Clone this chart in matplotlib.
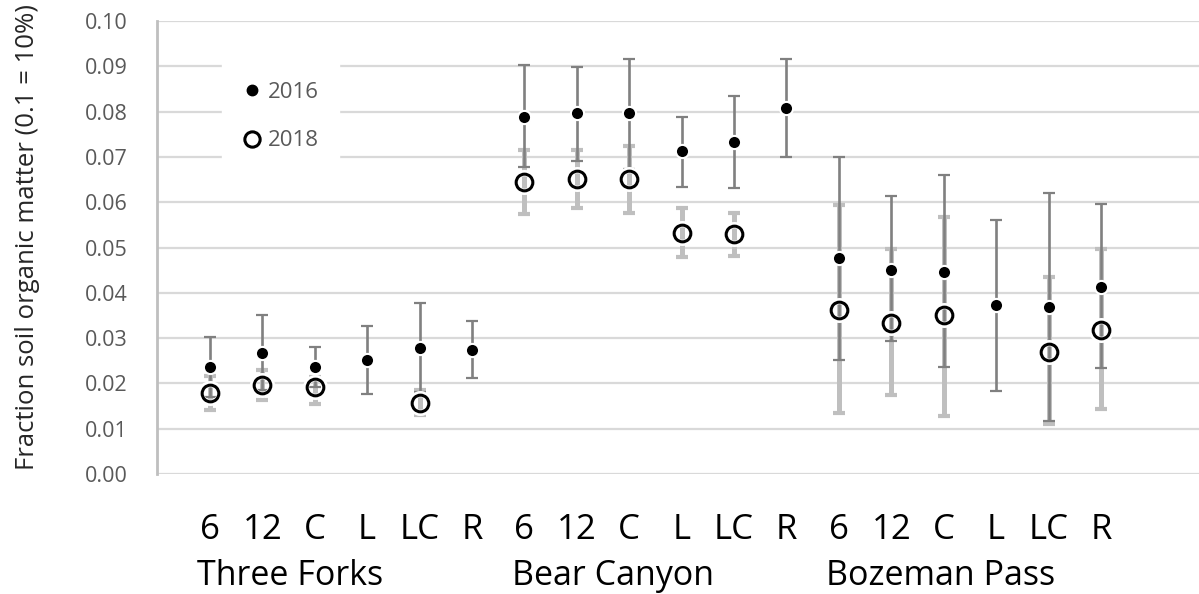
import numpy as np
import matplotlib.pyplot as plt
from matplotlib.lines import Line2D

# -------------------------------------------------------
# Data
# -------------------------------------------------------

sites = ["Three Forks", "Bear Canyon", "Bozeman Pass"]
treatments = ["6", "12", "C", "L", "LC", "R"]

som_2016 = [0.0236, 0.0268, 0.0236, 0.0252, 0.0278, 0.0274,
            0.0789, 0.0797, 0.0797, 0.0714, 0.0732, 0.0808,
            0.0477, 0.0451, 0.0447, 0.0372, 0.0369, 0.0413]
hi_2016 = [0.0303, 0.0351, 0.0280, 0.0327, 0.0377, 0.0338,
           0.0903, 0.0898, 0.0916, 0.0789, 0.0835, 0.0916,
           0.0700, 0.0613, 0.0660, 0.0561, 0.0621, 0.0597]
lo_2016 = [0.0170, 0.0185, 0.0192, 0.0176, 0.0182, 0.0212,
           0.0678, 0.0692, 0.0674, 0.0634, 0.0632, 0.0700,
           0.0252, 0.0293, 0.0236, 0.0183, 0.0117, 0.0233]

nan = np.nan
som_2018 = [0.0179, 0.0196, 0.0191, nan, 0.0157, nan,
            0.0645, 0.0652, 0.0651, 0.0532, 0.0530, nan,
            0.0362, 0.0334, 0.0351, nan, 0.0270, 0.0318]
hi_2018 = [0.0216, 0.0230, 0.0214, nan, 0.0185, nan,
           0.0715, 0.0716, 0.0724, 0.0588, 0.0577, nan,
           0.0594, 0.0496, 0.0568, nan, 0.0435, 0.0496]
lo_2018 = [0.0141, 0.0164, 0.0154, nan, 0.0130, nan,
           0.0575, 0.0588, 0.0577, 0.0480, 0.0482, nan,
           0.0135, 0.0175, 0.0129, nan, 0.0110, 0.0143]

# -------------------------------------------------------
# Plot
# -------------------------------------------------------

plt.rcParams["font.family"] = ["Open Sans", "DejaVu Sans"]

labels = treatments * len(sites)
x = np.arange(len(labels))

y16 = np.array(som_2016)
y18 = np.array(som_2018)
err16 = [y16 - np.array(lo_2016), np.array(hi_2016) - y16]
err18 = [y18 - np.array(lo_2018), np.array(hi_2018) - y18]

fig = plt.figure(figsize=(11.99, 5.94), dpi=100)
ax = fig.add_axes([157 / 1199, 120 / 594, 1042 / 1199, 453 / 594])

# 2018 error bars (light, behind)
ax.errorbar(x, y18, yerr=err18, fmt="none", ecolor="#bfbfbf",
            elinewidth=3.6, capsize=4.3, capthick=3.0, zorder=2)
# 2016 error bars (dark)
ax.errorbar(x, y16, yerr=err16, fmt="none", ecolor="#808080",
            elinewidth=1.9, capsize=4.3, capthick=1.6, zorder=3)

ax.plot(x, y16, "o", color="black", markersize=9.5,
        markeredgecolor="white", markeredgewidth=1.5, zorder=5)
ax.plot(x, y18, "o", color="white", markersize=13.5,
        markerfacecolor="none", markeredgewidth=4.5, zorder=5)
ax.plot(x, y18, "o", markersize=12, markerfacecolor="none",
        markeredgecolor="black", markeredgewidth=2.2, zorder=6)

ax.set_xlim(-1.01, 18.87)
ax.set_ylim(0, 0.1)
ax.set_yticks(np.arange(0, 0.1001, 0.01))
ax.yaxis.set_major_formatter(plt.FormatStrFormatter("%.2f"))
ax.grid(axis="y", color="#d9d9d9", linewidth=1.6)
ax.set_axisbelow(True)

for s in ["top", "right", "bottom"]:
    ax.spines[s].set_visible(False)
ax.spines["left"].set_color("#bfbfbf")
ax.spines["left"].set_linewidth(2)

ax.tick_params(axis="y", length=0, pad=21, labelsize=15.5,
               labelcolor="#595959")
ax.set_xticks(x)
ax.set_xticklabels(labels, fontsize=25, color="black")
ax.tick_params(axis="x", length=0, pad=28)

for i, site in enumerate(sites):
    ax.text(i * len(treatments) - 0.24, -0.187, site, fontsize=24.5,
            ha="left", va="top", transform=ax.get_xaxis_transform())

ax.set_ylabel("Fraction soil organic matter (0.1 = 10%)", fontsize=18.5,
              color="#262626")
ax.yaxis.set_label_coords(-0.112, 0.523)

handles = [
    Line2D([], [], marker="o", linestyle="none", color="black",
           markersize=7.5),
    Line2D([], [], marker="o", linestyle="none", markerfacecolor="none",
           markeredgecolor="black", markeredgewidth=2.2, markersize=11),
]
leg = ax.legend(handles, ["2016", "2018"], loc="upper left",
                bbox_to_anchor=(0.052, 0.935), frameon=True, fontsize=16,
                labelspacing=1.25, handlelength=0.9, handletextpad=0.25,
                borderpad=0.9, fancybox=False)
leg.get_frame().set_edgecolor("white")
leg.get_frame().set_facecolor("white")
leg.get_frame().set_alpha(1)
for t in leg.get_texts():
    t.set_color("#595959")

fig.savefig("out.png", dpi=100)
